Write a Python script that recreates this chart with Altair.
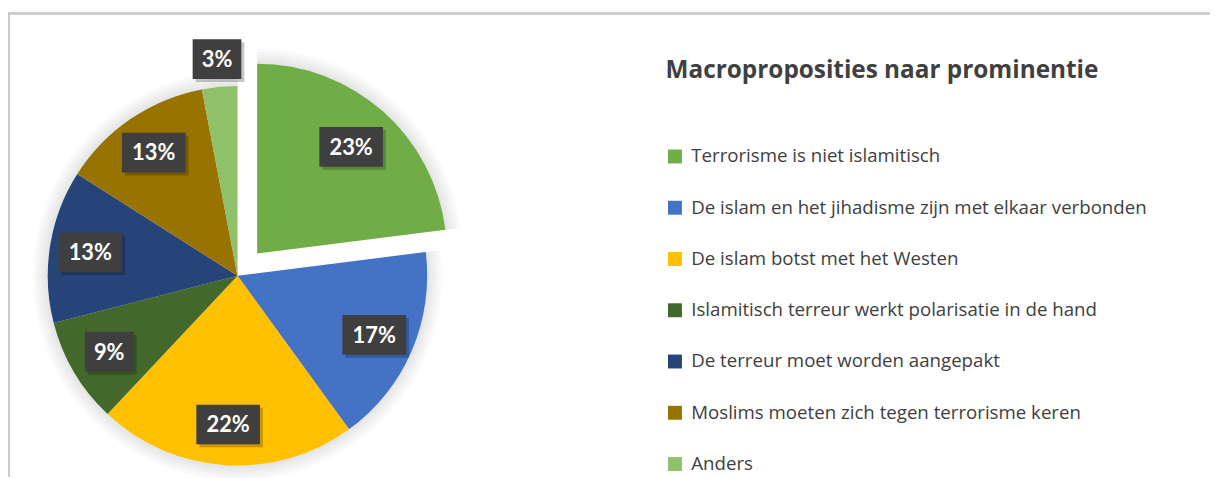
import math
import altair as alt
import pandas as pd

categories = [
    "Terrorisme is niet islamitisch",
    "De islam en het jihadisme zijn met elkaar verbonden",
    "De islam botst met het Westen",
    "Islamitisch terreur werkt polarisatie in de hand",
    "De terreur moet worden aangepakt",
    "Moslims moeten zich tegen terrorisme keren",
    "Anders",
]
values = [23, 17, 22, 9, 13, 13, 3]
explode = [1, 0, 0, 0, 0, 0, 0]
colors = ["#70AD47", "#4472C4", "#FFC000", "#43682B", "#264478", "#997300", "#8FC16A"]

df = pd.DataFrame({
    "cat": categories,
    "value": values,
    "explode": explode,
    "order": list(range(len(values))),
})

CX, CY, R, OFF = 231, 268, 191, 30
FONT = "Lato"
LFONT = "Open Sans"
TXT = "#404040"

base = (
    alt.Chart(df)
    .transform_joinaggregate(total="sum(value)")
    .transform_window(cum="sum(value)", sort=[alt.SortField("order")], frame=[None, 0])
    .transform_calculate(
        end="datum.cum / datum.total",
        start="(datum.cum - datum.value) / datum.total",
        label="format(datum.value / datum.total, '.0%')",
    )
    .transform_calculate(mid="PI * (datum.start + datum.end)")
    .transform_calculate(
        cx=f"{CX} + datum.explode * {OFF} * sin(datum.mid)",
        cy=f"{CY} - datum.explode * {OFF} * cos(datum.mid)",
        lr="datum.value < 5 ? 219 : (datum.explode ? 143 : 150)",
    )
    .transform_calculate(
        lx="datum.cx + datum.lr * sin(datum.mid)",
        ly="datum.cy - datum.lr * cos(datum.mid)",
        bw="length(datum.label) * 15 + 19",
    )
    .transform_calculate(
        bx1="datum.lx - datum.bw / 2",
        bx2="datum.lx + datum.bw / 2",
        by1="datum.ly - 20",
        by2="datum.ly + 20",
    )
)

theta = alt.Theta("start:Q", scale=alt.Scale(domain=[0, 1], range=[0, 2 * math.pi]), stack=None)
theta2 = alt.Theta2("end:Q")
px = alt.X("cx:Q", scale=None)
py = alt.Y("cy:Q", scale=None)

layers = []
# soft shadow around the pie
for k in [3, 6, 9, 12, 15]:
    layers.append(
        base.mark_arc(outerRadius=R + k, innerRadius=0, color="#000000", opacity=0.018)
        .encode(theta=theta, theta2=theta2, x=px, y=py)
    )

slices = base.mark_arc(outerRadius=R, innerRadius=0).encode(
    theta=theta,
    theta2=theta2,
    x=px,
    y=py,
    color=alt.Color(
        "cat:N",
        scale=alt.Scale(domain=categories, range=colors),
        sort=categories,
        legend=alt.Legend(
            orient="none",
            legendX=662,
            legendY=50,
            title="Macroproposities naar prominentie",
            titleFont=LFONT,
            titleFontSize=24.5,
            titleFontWeight="bold",
            titleColor=TXT,
            titleLimit=700,
            titlePadding=64,
            labelFont=LFONT,
            labelFontSize=18.8,
            labelColor=TXT,
            labelLimit=700,
            labelOffset=7,
            symbolType="square",
            symbolSize=196,
            symbolStrokeWidth=0,
            rowPadding=31.6,
        ),
    ),
)
layers.append(slices)

boxes_sh = base.transform_calculate(
    sx1="datum.bx1 + 3", sx2="datum.bx2 + 3", sy1="datum.by1 + 3", sy2="datum.by2 + 3"
).mark_rect(color="#000000", opacity=0.22).encode(
    x=alt.X("sx1:Q", scale=None), x2="sx2:Q",
    y=alt.Y("sy1:Q", scale=None), y2="sy2:Q",
)
boxes = base.mark_rect(color="#3F3F3F").encode(
    x=alt.X("bx1:Q", scale=None), x2="bx2:Q",
    y=alt.Y("by1:Q", scale=None), y2="by2:Q",
)
texts = base.mark_text(
    font=FONT, fontSize=22, fontWeight="bold", color="#FFFFFF", align="center", baseline="middle", dy=1
).encode(x=alt.X("lx:Q", scale=None), y=alt.Y("ly:Q", scale=None), text="label:N")

frame_top = alt.Chart(df).mark_rule(color="#CCCCCC", strokeWidth=1.5).encode(
    x=alt.value(0), x2=alt.value(1210), y=alt.value(4)
)
frame_left = alt.Chart(df).mark_rule(color="#CCCCCC", strokeWidth=1.5).encode(
    x=alt.value(0.75), y=alt.value(4), y2=alt.value(470)
)

chart = (
    alt.layer(frame_top, frame_left, *layers, boxes_sh, boxes, texts)
    .properties(width=1210, height=470, padding=0, autosize=alt.AutoSizeParams(type="none"))
    .configure_view(stroke=None)
)

chart.save("out.html", embed_options={"renderer": "svg", "actions": False})
